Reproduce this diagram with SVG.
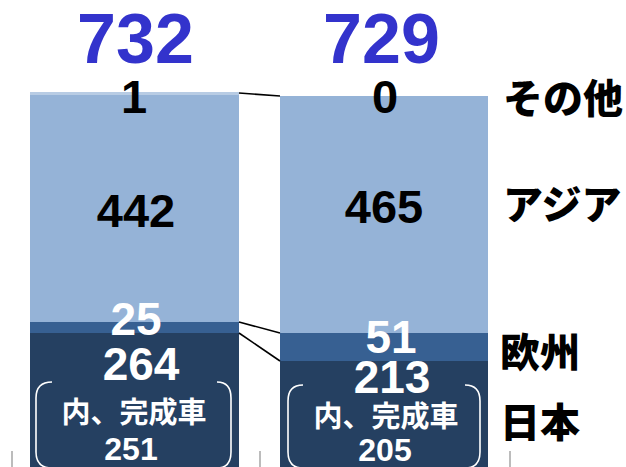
<svg xmlns="http://www.w3.org/2000/svg" width="626" height="467" viewBox="0 0 626 467">
<style>
.num{font-family:"Liberation Sans",Arial,sans-serif;font-weight:bold;text-anchor:middle}
.tot{font-size:70px;fill:#3333CC}
.blk{font-size:47px;fill:#000}
.wht{font-size:46px;fill:#fff}
.sub{font-size:32px;fill:#fff}
.jp{font-family:"Noto Sans CJK JP",sans-serif;font-weight:bold}
.cat{font-size:40px;fill:#000;font-weight:900}
.box{font-size:29px;fill:#fff;text-anchor:middle}
.oth{fill:#B8CCE4}
.asia{fill:#95B3D7}
.eu{fill:#376092}
.jpn{fill:#254061}
.brk{fill:none;stroke:#fff;stroke-width:1.6}
.tick{stroke:#A6A6A6;stroke-width:1.5}
.con{stroke:#000;stroke-width:1.6;fill:none}
</style>
<rect width="626" height="467" fill="#fff"/>
<g id="axis">
<line class="tick" x1="12" y1="451" x2="12" y2="467"/>
<line class="tick" x1="260" y1="451" x2="260" y2="467"/>
<line class="tick" x1="510" y1="451" x2="510" y2="467"/>
</g>
<g id="bar1">
<rect class="oth" x="30" y="92" width="209" height="3"/>
<rect class="asia" x="30" y="95" width="209" height="227"/>
<rect class="eu" x="30" y="322" width="209" height="11"/>
<rect class="jpn" x="30" y="333" width="209" height="134"/>
<text class="num tot" x="135.5" y="63">732</text>
<text class="num blk" x="134" y="113">1</text>
<text class="num blk" x="136" y="227">442</text>
<text class="num wht" x="136" y="335">25</text>
<text class="num wht" x="141" y="380">264</text>
<path class="brk" d="M52 382 Q36 382 36 398 V452 Q36 468 52 468"/>
<path class="brk" d="M217 382 Q231 382 231 398 V452 Q231 468 217 468"/>
<text class="jp box" x="134" y="423">内、完成車</text>
<text class="num sub" x="131" y="460">251</text>
</g>
<g id="bar2">
<rect class="asia" x="280" y="96" width="208" height="237"/>
<rect class="eu" x="280" y="333" width="208" height="28"/>
<rect class="jpn" x="280" y="361" width="208" height="106"/>
<text class="num tot" x="381.5" y="63">729</text>
<text class="num blk" x="385" y="113">0</text>
<text class="num blk" x="384" y="223">465</text>
<text class="num wht" x="391" y="353">51</text>
<text class="num wht" x="392" y="393">213</text>
<path class="brk" d="M303 385 Q288 385 288 401 V452 Q288 468 303 468"/>
<path class="brk" d="M465 385 Q480 385 480 401 V452 Q480 468 465 468"/>
<text class="jp box" x="386" y="427">内、完成車</text>
<text class="num sub" x="385" y="461">205</text>
</g>
<g id="legend">
<text class="jp cat" x="503" y="113">その他</text>
<text class="jp cat" x="503" y="219">アジア</text>
<text class="jp cat" x="500" y="367">欧州</text>
<text class="jp cat" x="500" y="437">日本</text>
</g>
<g id="connectors">
<line class="con" x1="239" y1="93" x2="280" y2="96"/>
<line class="con" x1="239" y1="322" x2="280" y2="333"/>
<line class="con" x1="239" y1="333" x2="280" y2="361"/>
</g>
</svg>
